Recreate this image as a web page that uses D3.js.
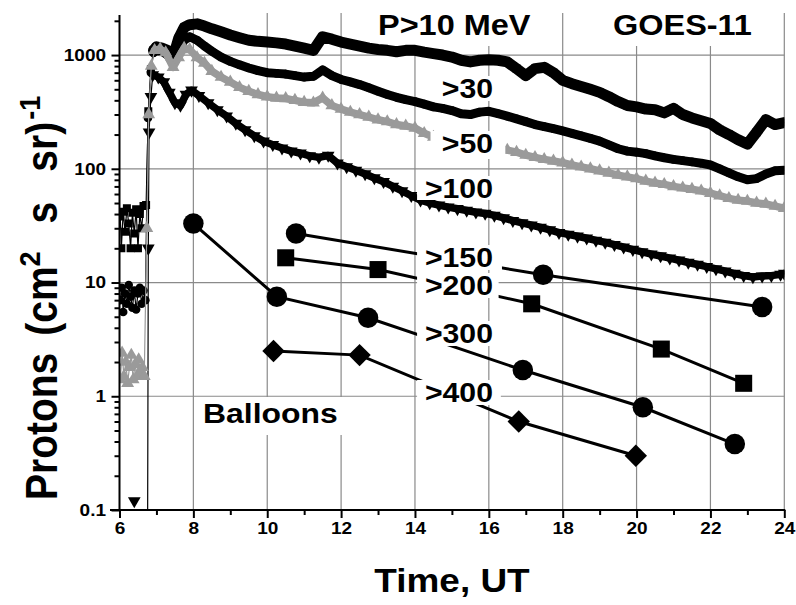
<!DOCTYPE html>
<html>
<head>
<meta charset="utf-8">
<script src="https://cdn.jsdelivr.net/npm/d3@7"></script>
<style>
html,body{margin:0;padding:0;background:#fff;}
svg{display:block;}
</style>
</head>
<body>
<div id="chart"></div>
<script>
// ---------------- DATA ----------------
// GOES-11 integral proton channels (hours UT, flux)
const t10 = [6.02,6.05,6.1,6.15,6.2,6.25,6.3,6.35,6.4,6.45,6.5,6.55,6.6,6.65,6.72,6.78,6.85,6.92,
  7.0,7.15,7.3,7.45,7.6,7.75,7.9,8.1,8.3,8.5,8.75,
  9.0,9.25,9.5,9.75,10.0,10.25,10.5,10.75,11.0,11.25,11.5,11.75,12.0,12.25,12.5,12.75,
  13.0,13.25,13.5,13.75,14.0,14.25,14.5,14.75,15.0,15.25,15.5,15.75,16.0,16.25,16.5,16.75,
  17.0,17.25,17.5,17.75,18.0,18.25,18.5,18.75,19.0,19.25,19.5,19.75,20.0,20.25,20.5,20.75,
  21.0,21.25,21.5,21.75,22.0,22.25,22.5,22.75,23.0,23.25,23.5,23.75,24.0];
const v10 = [38,20,42,28,45,33,20,41,27,44,20,40,30,47,48,320,750,1100,
  1180,1150,1100,950,1400,1750,1850,1880,1800,1700,1600,
  1500,1420,1350,1320,1300,1280,1250,1200,1150,1100,1450,1380,1300,1250,1200,1150,
  1120,1100,1070,1100,1100,1060,1030,1000,960,900,870,900,910,900,870,760,
  660,760,780,700,600,560,530,500,470,430,390,360,350,335,330,310,
  340,300,280,265,250,220,200,180,165,210,270,245,255];

const t30 = [6.02,6.06,6.1,6.15,6.2,6.25,6.3,6.35,6.4,6.45,6.5,6.55,6.6,6.65,6.7,6.77,6.85,6.92,
  7.0,7.15,7.3,7.45,7.6,7.75,7.9,8.1,8.3,8.5,8.75,
  9.0,9.25,9.5,9.75,10.0,10.25,10.5,10.75,11.0,11.25,11.5,11.75,12.0,12.25,12.5,12.75,
  13.0,13.25,13.5,13.75,14.0,14.25,14.5,14.75,15.0,15.25,15.5,15.75,16.0,16.25,16.5,16.75,
  17.0,17.25,17.5,17.75,18.0,18.25,18.5,18.75,19.0,19.25,19.5,19.75,20.0,20.25,20.5,20.75,
  21.0,21.25,21.5,21.75,22.0,22.25,22.5,22.75,23.0,23.25,23.5,23.75,24.0];
const v30 = [7,9,5.5,8,6.5,9.5,7.5,6,8.5,5.8,8,9,6.5,8.5,7,280,700,1050,
  1100,1080,1000,850,1100,1350,1450,1350,1200,1080,960,
  880,820,770,730,700,690,680,660,640,650,740,660,610,580,550,515,
  480,450,425,405,390,370,350,340,325,305,300,315,320,305,290,275,
  260,245,235,225,215,205,195,185,175,162,150,143,140,136,130,125,
  121,118,115,112,108,100,92,85,80,82,90,96,97];

const t50 = [6.02,6.07,6.12,6.17,6.22,6.27,6.32,6.37,6.42,6.47,6.52,6.57,6.62,6.67,6.74,6.79,6.86,6.95,
  7.1,7.25,7.45,7.6,7.75,7.9,8.1,8.3,8.5,8.75,
  9.0,9.25,9.5,9.75,10.0,10.25,10.5,10.75,11.0,11.25,11.5,11.75,12.0,12.25,12.5,12.75,
  13.0,13.25,13.5,13.75,14.0,14.25,14.5,14.75,15.0,15.25,15.5,15.75,16.0,16.25,16.5,16.75,
  17.0,17.25,17.5,17.75,18.0,18.25,18.5,18.75,19.0,19.25,19.5,19.75,20.0,20.25,20.5,20.75,
  21.0,21.25,21.5,21.75,22.0,22.25,22.5,22.75,23.0,23.25,23.5,23.75,24.0];
const v50 = [1.4,2.4,1.5,2.0,1.3,1.8,2.3,1.4,1.9,1.5,2.1,1.6,1.8,1.5,30,300,800,1100,
  1130,1050,780,950,1150,1120,950,850,720,640,
  580,520,480,450,430,420,415,400,385,380,420,360,335,315,300,285,
  270,260,245,238,228,205,190,180,172,166,160,156,153,150,146,140,
  132,126,121,117,113,108,104,100,96,92,88,85,82,78,75,73,
  70,68,66,64,61,58,55,53,52,50,49,47,45];

const t100 = [6.4,6.76,6.78,6.8,6.85,6.9,7.05,7.2,7.35,7.5,7.65,7.8,7.95,8.15,8.4,8.65,8.9,9.15,9.4,9.65,
  9.9,10.15,10.4,10.65,10.9,11.15,11.4,11.65,11.9,12.15,12.4,12.65,12.9,13.15,13.4,13.65,13.9,
  14.15,14.4,14.65,14.9,15.15,15.4,15.65,15.9,16.15,16.4,16.65,16.9,17.15,17.4,17.65,17.9,
  18.15,18.4,18.65,18.9,19.15,19.4,19.65,19.9,20.15,20.4,20.65,20.9,21.15,21.4,21.65,21.9,
  22.15,22.4,22.65,22.9,23.15,23.4,23.65,23.9,24.0];
const v100 = [0.12,0.05,20,210,430,670,640,580,470,380,360,450,490,440,380,330,290,250,220,195,
  175,163,152,143,137,130,126,131,112,104,97,90,83,77,70,64,58,
  53,50,48,46,44.5,43,41.5,40.5,39,37,35,33.5,32,30.5,29,27.5,
  26.5,25.5,24.5,23.5,22.5,21.5,20.5,19.5,18.6,17.8,17.1,16.4,15.7,15,14.4,13.8,
  13.2,12.6,12,11.5,11.2,11.4,11.5,11.8,12];

// Balloon measurements
const tB150 = [10.78, 17.47, 23.4];
const vB150 = [27, 11.7, 6.1];
const tB200 = [10.5, 13.0, 17.16, 20.67, 22.9];
const vB200 = [16.5, 13, 6.5, 2.6, 1.3];
const tB300 = [8.0, 10.26, 12.73, 16.92, 20.17, 22.66];
const vB300 = [33, 7.5, 4.9, 1.7, 0.8, 0.38];
const tB400 = [10.17, 12.5, 16.81, 19.98];
const vB400 = [2.5, 2.3, 0.6, 0.3];

// Axis ticks
const xMajorTicks = [6,8,10,12,14,16,18,20,22,24];
const xMinorTicks = [7,9,11,13,15,17,19,21,23];
const yMajorTicks = [0.1,1,10,100,1000];
const yTickLabels = ["0.1","1","10","100","1000"];
const yGrid = [1,10,100,1000];
const xGrid = [8,10,12,14,16,18,20,22,24];

// ---------------- CHART ----------------
const W = 796, H = 605;
const FONT = "'Liberation Sans', Arial, Helvetica, sans-serif";
const SX = 1.12; // horizontal stretch of the lettering
const svg = d3.select("#chart").append("svg").attr("width", W).attr("height", H);

const x = d3.scaleLinear().domain([6, 24]).range([119.5, 784.3]);
const y = d3.scaleLog().domain([0.1, 2250]).range([510, 15]);

const zip = (ts, vs) => ts.map((t, i) => ({t, v: vs[i]}));

svg.append("defs").append("clipPath").attr("id", "plotclip")
  .append("rect").attr("x", x(6)).attr("y", y(2250)).attr("width", x(24) - x(6)).attr("height", y(0.1) - y(2250));

// Gridlines
const grid = svg.append("g").attr("stroke", "#8a8a8a").attr("stroke-width", 1.2);
grid.selectAll("line.h").data(yGrid).join("line")
  .attr("x1", x(6)).attr("x2", x(24)).attr("y1", d => y(d)).attr("y2", d => y(d));
grid.selectAll("line.v").data(xGrid).join("line")
  .attr("x1", d => x(d)).attr("x2", d => x(d)).attr("y1", y(2250) - 2).attr("y2", y(0.1));

// stretched text helper
function label(parent, px, py, str, size, anchor, box) {
  const g = parent.append("g").attr("transform", `translate(${px},${py}) scale(${SX},1)`);
  const r = box ? g.append("rect").attr("fill", "#fff") : null;
  const t = g.append("text").attr("text-anchor", anchor)
    .style("font-family", FONT).style("font-weight", "bold").style("font-size", size + "px")
    .attr("fill", "#000").text(str);
  if (box) {
    const b = t.node().getBBox();
    r.attr("x", b.x - box[0]).attr("width", b.width + box[0] + box[1])
     .attr("y", -box[2]).attr("height", box[2] + box[3]);
  }
  return g;
}

// Title boxes (hide gridlines behind the titles)
const titleBoxLayer = svg.append("g");

// GOES data
const data = svg.append("g").attr("clip-path", "url(#plotclip)");
const line = d3.line().x(d => x(d.t)).y(d => y(d.v));

function goes(ts, vs, color, bandW, bandStart, lineStart, symType, symSize, rot) {
  const pts = zip(ts, vs);
  const g = data.append("g");
  g.append("path").attr("d", line(pts.filter(d => d.t >= lineStart)))
    .attr("fill", "none").attr("stroke", color).attr("stroke-width", 1.2);
  g.append("path").attr("d", line(pts.filter(d => d.t >= bandStart)))
    .attr("fill", "none").attr("stroke", color).attr("stroke-width", bandW)
    .attr("stroke-linejoin", "round").attr("stroke-linecap", "round");
  g.selectAll("path.m").data(pts).join("path")
    .attr("d", d3.symbol().type(symType).size(symSize))
    .attr("transform", d => `translate(${x(d.t)},${y(d.v)}) rotate(${rot})`)
    .attr("fill", color);
}
goes(t10, v10, "#000", 11, 6.9, 6.0, d3.symbolSquare, 64, 0);
goes(t30, v30, "#000", 9, 6.9, 6.0, d3.symbolCircle, 58, 0);
goes(t100, v100, "#000", 7.5, 6.88, 6.7, d3.symbolTriangle, 70, 180);
goes(t50, v50, "#9a9a9a", 7.5, 6.9, 6.0, d3.symbolTriangle, 72, 0);

// Balloon data
const bal = svg.append("g");
function balloon(ts, vs, symType, size, rot) {
  const pts = zip(ts, vs);
  bal.append("path").attr("d", line(pts)).attr("fill", "none")
    .attr("stroke", "#000").attr("stroke-width", 3);
  bal.selectAll(null).data(pts).join("path")
    .attr("d", d3.symbol().type(symType).size(size))
    .attr("transform", d => `translate(${x(d.t)},${y(d.v)}) rotate(${rot})`)
    .attr("fill", "#000");
}
balloon(tB150, vB150, d3.symbolCircle, 330, 0);
balloon(tB200, vB200, d3.symbolSquare, 290, 0);
balloon(tB300, vB300, d3.symbolCircle, 330, 0);
balloon(tB400, vB400, d3.symbolSquare, 250, 45);

// Axes
const axes = svg.append("g");
const xa = axes.append("g").attr("transform", `translate(0,${y(0.1)})`)
  .call(d3.axisBottom(x).tickValues(xMajorTicks).tickSize(8).tickPadding(4).tickFormat(d3.format("d")));
const xm = axes.append("g").attr("transform", `translate(0,${y(0.1)})`)
  .call(d3.axisBottom(x).tickValues(xMinorTicks).tickSize(5).tickFormat(""));
const yMinor = [];
[0.1, 1, 10, 100, 1000].forEach(dec => { for (let m = 2; m <= 9; m++) { if (m * dec <= 2250) yMinor.push(m * dec); } });
const ya = axes.append("g").attr("transform", `translate(${x(6)},0)`)
  .call(d3.axisLeft(y).tickValues(yMajorTicks).tickSize(8).tickPadding(4).tickFormat((d, i) => yTickLabels[i]));
const ym = axes.append("g").attr("transform", `translate(${x(6)},0)`)
  .call(d3.axisLeft(y).tickValues(yMinor).tickSize(5).tickFormat(""));
[xa, xm, ya, ym].forEach(a => {
  a.select(".domain").remove();
  a.selectAll(".tick line").attr("stroke", "#000").attr("stroke-width", 2);
  a.selectAll(".tick text").style("font-family", FONT).style("font-weight", "bold")
    .style("font-size", "17px").attr("fill", "#000").attr("transform", `scale(${SX},1)`);
});
axes.append("line").attr("x1", 110).attr("x2", x(24) + 1).attr("y1", y(0.1)).attr("y2", y(0.1))
  .attr("stroke", "#000").attr("stroke-width", 2);
axes.append("line").attr("x1", x(6)).attr("x2", x(6)).attr("y1", y(2250)).attr("y2", y(0.1) + 1)
  .attr("stroke", "#000").attr("stroke-width", 2);

// Titles with white boxes behind them (boxes drawn under the data)
titleBoxLayer.append("rect").attr("x", 371).attr("y", 8).attr("width", 164).attr("height", 38).attr("fill", "#fff");
titleBoxLayer.append("rect").attr("x", 606).attr("y", 8).attr("width", 150).attr("height", 38).attr("fill", "#fff");
const titleLayer = svg.append("g");
label(titleLayer, 378, 35, "P>10 MeV", 29, "start", null);
label(titleLayer, 613, 35, "GOES-11", 29, "start", null);

// Channel labels (white boxes cover data behind them)
const labs = svg.append("g");
label(labs, 493, 98, ">30", 27, "end", [7, 7, 22, 3]);
label(labs, 493, 153, ">50", 27, "end", [10, 11, 22, 6]);
label(labs, 493, 198, ">100", 27, "end", [7, 7, 22, 2]);
label(labs, 493, 267, ">150", 27, "end", [7, 8, 22, 3]);
label(labs, 493, 295, ">200", 27, "end", [7, 5, 22, 3]);
label(labs, 493, 343, ">300", 27, "end", [7, 7, 22, 3]);
label(labs, 493, 402, ">400", 27, "end", [7, 7, 22, 3]);
label(labs, 203, 423, "Balloons", 28.5, "start", [4, 4, 26, 12]);

// Axis titles
label(svg, 452, 592, "Time, UT", 33, "middle", null);
const yt = svg.append("text")
  .attr("transform", `translate(57,500) scale(${SX},1) rotate(-90)`)
  .style("font-family", FONT).style("font-weight", "bold").style("font-size", "39px").attr("fill", "#000");
yt.append("tspan").text("Protons");
yt.append("tspan").attr("dx", 17).text("(cm");
yt.append("tspan").attr("dy", -15).style("font-size", "27px").text("2");
yt.append("tspan").attr("dy", 15).attr("dx", 28).text("s");
yt.append("tspan").attr("dx", 30).text("sr)");
yt.append("tspan").attr("dy", -15).attr("dx", 2).style("font-size", "27px").text("-1");
</script>
</body>
</html>
